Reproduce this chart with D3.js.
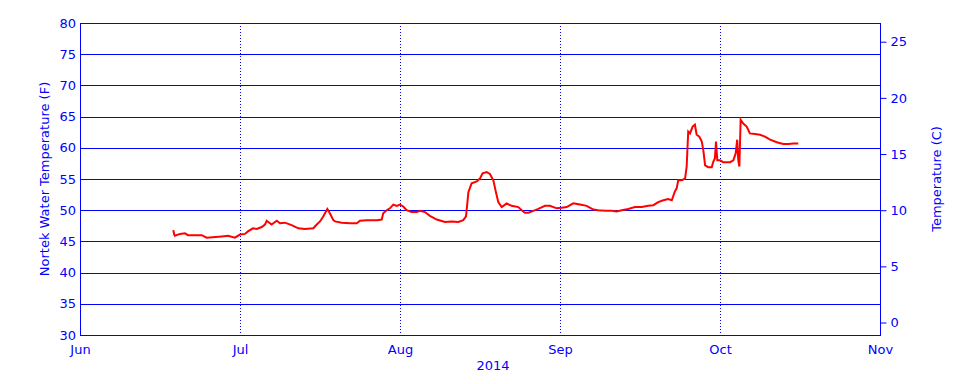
<!DOCTYPE html>
<html>
<head>
<meta charset="utf-8">
<script src="https://cdn.jsdelivr.net/npm/d3@7"></script>
<style>
  html, body { margin: 0; padding: 0; background: #ffffff; }
  svg { display: block; }
  text { font-family: "DejaVu Sans", sans-serif; font-size: 13px; fill: #0000ff; }
</style>
</head>
<body>
<div id="chart"></div>
<script>
// ---------------- data ----------------
const monthDates = ["2014-06-01", "2014-07-01", "2014-08-01", "2014-09-01", "2014-10-01", "2014-11-01"];
const monthLabels = ["Jun", "Jul", "Aug", "Sep", "Oct", "Nov"];
const yearLabel = "2014";
const fTicks = [30, 35, 40, 45, 50, 55, 60, 65, 70, 75, 80];
const cTicks = [0, 5, 10, 15, 20, 25];
const leftTitle = "Nortek Water Temperature (F)";
const rightTitle = "Temperature (C)";

const times = [
  "2014-06-18 12", "2014-06-18 16", "2014-06-18 19", "2014-06-19 18", "2014-06-20 16", "2014-06-21 06",
  "2014-06-23 20", "2014-06-24 18", "2014-06-27 14", "2014-06-28 18", "2014-06-30 01", "2014-07-01 00",
  "2014-07-01 23", "2014-07-02 13", "2014-07-03 12", "2014-07-04 06", "2014-07-05 05", "2014-07-05 20",
  "2014-07-06 04", "2014-07-07 03", "2014-07-08 03", "2014-07-08 18", "2014-07-09 17", "2014-07-11 00",
  "2014-07-12 07", "2014-07-13 14", "2014-07-15 05", "2014-07-15 21", "2014-07-16 12", "2014-07-17 03",
  "2014-07-17 22", "2014-07-18 10", "2014-07-19 02", "2014-07-19 10", "2014-07-20 17", "2014-07-22 08",
  "2014-07-23 15", "2014-07-24 06", "2014-07-25 13", "2014-07-27 12", "2014-07-28 11", "2014-07-28 18",
  "2014-07-29 10", "2014-07-30 01", "2014-07-30 17", "2014-07-31 09", "2014-08-01 00", "2014-08-01 15",
  "2014-08-02 07", "2014-08-03 06", "2014-08-04 06", "2014-08-04 21", "2014-08-05 20", "2014-08-06 19",
  "2014-08-08 03", "2014-08-09 17", "2014-08-11 00", "2014-08-12 07", "2014-08-13 06", "2014-08-13 19",
  "2014-08-14 01", "2014-08-14 06", "2014-08-14 21", "2014-08-15 21", "2014-08-16 12", "2014-08-17 00",
  "2014-08-17 19", "2014-08-18 10", "2014-08-19 02", "2014-08-19 14", "2014-08-20 01", "2014-08-20 17",
  "2014-08-21 16", "2014-08-22 15", "2014-08-23 22", "2014-08-24 14", "2014-08-25 05", "2014-08-25 21",
  "2014-08-26 20", "2014-08-27 19", "2014-08-29 02", "2014-08-30 01", "2014-08-31 09", "2014-09-01 08",
  "2014-09-02 06", "2014-09-03 12", "2014-09-04 18", "2014-09-06 00", "2014-09-07 06", "2014-09-08 04",
  "2014-09-09 11", "2014-09-10 17", "2014-09-11 15", "2014-09-12 14", "2014-09-13 19", "2014-09-15 01",
  "2014-09-16 08", "2014-09-17 13", "2014-09-18 12", "2014-09-19 10", "2014-09-20 09", "2014-09-21 07",
  "2014-09-21 23", "2014-09-22 13", "2014-09-22 21", "2014-09-23 04", "2014-09-23 20", "2014-09-24 11",
  "2014-09-24 18", "2014-09-25 01", "2014-09-25 09", "2014-09-25 21", "2014-09-26 07", "2014-09-26 15",
  "2014-09-27 03", "2014-09-27 14", "2014-09-27 21", "2014-09-28 05", "2014-09-28 19", "2014-09-29 11",
  "2014-09-29 18", "2014-09-30 01", "2014-09-30 06", "2014-09-30 12", "2014-10-01 00", "2014-10-01 15",
  "2014-10-02 23", "2014-10-03 14", "2014-10-04 01", "2014-10-04 08", "2014-10-04 13", "2014-10-04 18",
  "2014-10-05 00", "2014-10-05 12", "2014-10-06 04", "2014-10-06 19", "2014-10-07 19", "2014-10-08 18",
  "2014-10-09 17", "2014-10-10 17", "2014-10-12 00", "2014-10-13 06", "2014-10-14 06", "2014-10-15 05",
  "2014-10-16 04"
];
const tempF = [
  46.8, 46.1, 45.9, 46.2, 46.3, 46.0,
  46.0, 45.6, 45.8, 45.9, 45.6, 46.1,
  46.2, 46.6, 47.1, 47.0, 47.3, 47.7,
  48.3, 47.7, 48.3, 47.9, 48.0, 47.6,
  47.1, 47.0, 47.1, 47.7, 48.2, 49.0,
  50.2, 49.5, 48.4, 48.2, 48.0, 47.9,
  47.9, 48.3, 48.4, 48.4, 48.5, 49.5,
  50.0, 50.3, 50.9, 50.7, 50.9, 50.6,
  50.0, 49.7, 49.7, 49.9, 49.7, 49.1,
  48.5, 48.1, 48.2, 48.1, 48.4, 49.0,
  51.1, 52.9, 54.3, 54.6, 55.1, 55.9,
  56.1, 55.8, 54.8, 52.9, 51.3, 50.5,
  51.1, 50.7, 50.5, 50.0, 49.6, 49.6,
  49.9, 50.2, 50.7, 50.7, 50.3, 50.4,
  50.5, 51.1, 50.9, 50.7, 50.1, 50.0,
  49.9, 49.9, 49.8, 50.0, 50.2, 50.5,
  50.5, 50.7, 50.8, 51.3, 51.6, 51.8,
  51.6, 53.0, 53.5, 54.8, 54.8, 55.1,
  57.0, 62.6, 62.3, 63.4, 63.7, 62.1,
  61.8, 61.0, 59.6, 57.2, 56.9, 56.9,
  57.8, 58.3, 61.0, 58.0, 58.0, 57.7,
  57.7, 58.0, 59.1, 61.3, 58.0, 57.0,
  64.5, 63.9, 63.4, 62.3, 62.2, 62.1,
  61.8, 61.3, 60.9, 60.6, 60.6, 60.7,
  60.7
];

// ---------------- chart ----------------
const W = 960, H = 384;
const plot = { left: 80, right: 880, top: 23, bottom: 335 };
const BLUE = "#0000ff", RED = "#ff0000";

const parseDay = d3.timeParse("%Y-%m-%d");
const parseHour = d3.timeParse("%Y-%m-%d %H");
const months = monthDates.map(parseDay);
const data = times.map((t, i) => ({ t: parseHour(t), v: tempF[i] }));

// month ticks are equally spaced on the original plot
const monthStep = (plot.right - plot.left) / (months.length - 1);
const x = d3.scaleTime()
  .domain(months)
  .range(months.map((d, i) => plot.left + i * monthStep));

const yF = d3.scaleLinear().domain([30, 80]).range([plot.bottom, plot.top]);
const f2c = f => (f - 32) / 1.8;
const yC = d3.scaleLinear().domain([f2c(30), f2c(80)]).range([plot.bottom, plot.top]);

const svg = d3.select("#chart").append("svg")
  .attr("width", W).attr("height", H);

// horizontal gridlines
svg.append("g")
  .selectAll("line")
  .data(fTicks)
  .join("line")
  .attr("x1", plot.left).attr("x2", plot.right)
  .attr("y1", d => Math.round(yF(d)) + 0.5).attr("y2", d => Math.round(yF(d)) + 0.5)
  .attr("stroke", BLUE).attr("stroke-width", 1);

// vertical dotted month lines
svg.append("g")
  .selectAll("line")
  .data(months.slice(1, -1))
  .join("line")
  .attr("x1", d => Math.round(x(d)) + 0.5).attr("x2", d => Math.round(x(d)) + 0.5)
  .attr("y1", plot.top).attr("y2", plot.bottom)
  .attr("stroke", BLUE).attr("stroke-width", 1)
  .attr("stroke-dasharray", "1,2");

// frame
svg.append("rect")
  .attr("x", plot.left + 0.5).attr("y", Math.round(plot.top) + 0.5)
  .attr("width", plot.right - plot.left).attr("height", Math.round(plot.bottom) - Math.round(plot.top))
  .attr("fill", "none").attr("stroke", BLUE).attr("stroke-width", 1);

// left axis (F)
const gL = svg.append("g")
  .attr("transform", `translate(${plot.left},0)`)
  .call(d3.axisLeft(yF).tickValues(fTicks).tickSize(0).tickPadding(4));
gL.select(".domain").remove();

// right axis (C)
const gR = svg.append("g")
  .attr("transform", `translate(${plot.right + 0.5},0)`)
  .call(d3.axisRight(yC).tickValues(cTicks).tickSize(6).tickPadding(4));
gR.select(".domain").remove();
gR.selectAll("line").attr("stroke", BLUE);

// bottom axis
const gB = svg.append("g")
  .attr("transform", `translate(0,${plot.bottom})`)
  .call(d3.axisBottom(x).tickValues(months)
    .tickFormat((d, i) => monthLabels[i])
    .tickSize(0).tickPadding(10));
gB.select(".domain").remove();

svg.selectAll(".tick text").attr("fill", BLUE)
  .style("font-family", "'DejaVu Sans', sans-serif").style("font-size", "13px");

// year label
svg.append("text")
  .attr("x", 493).attr("y", 370)
  .attr("text-anchor", "middle")
  .text(yearLabel);

// axis titles
svg.append("text")
  .attr("transform", `translate(49,${(plot.top + plot.bottom) / 2}) rotate(-90)`)
  .attr("text-anchor", "middle")
  .text(leftTitle);

svg.append("text")
  .attr("transform", `translate(941,${(plot.top + plot.bottom) / 2}) rotate(-90)`)
  .attr("text-anchor", "middle")
  .text(rightTitle);

// data line
const line = d3.line()
  .x(d => x(d.t))
  .y(d => yF(d.v));

svg.append("path")
  .datum(data)
  .attr("d", line)
  .attr("fill", "none")
  .attr("stroke", RED)
  .attr("stroke-width", 2)
  .attr("stroke-linejoin", "miter");
</script>
</body>
</html>
